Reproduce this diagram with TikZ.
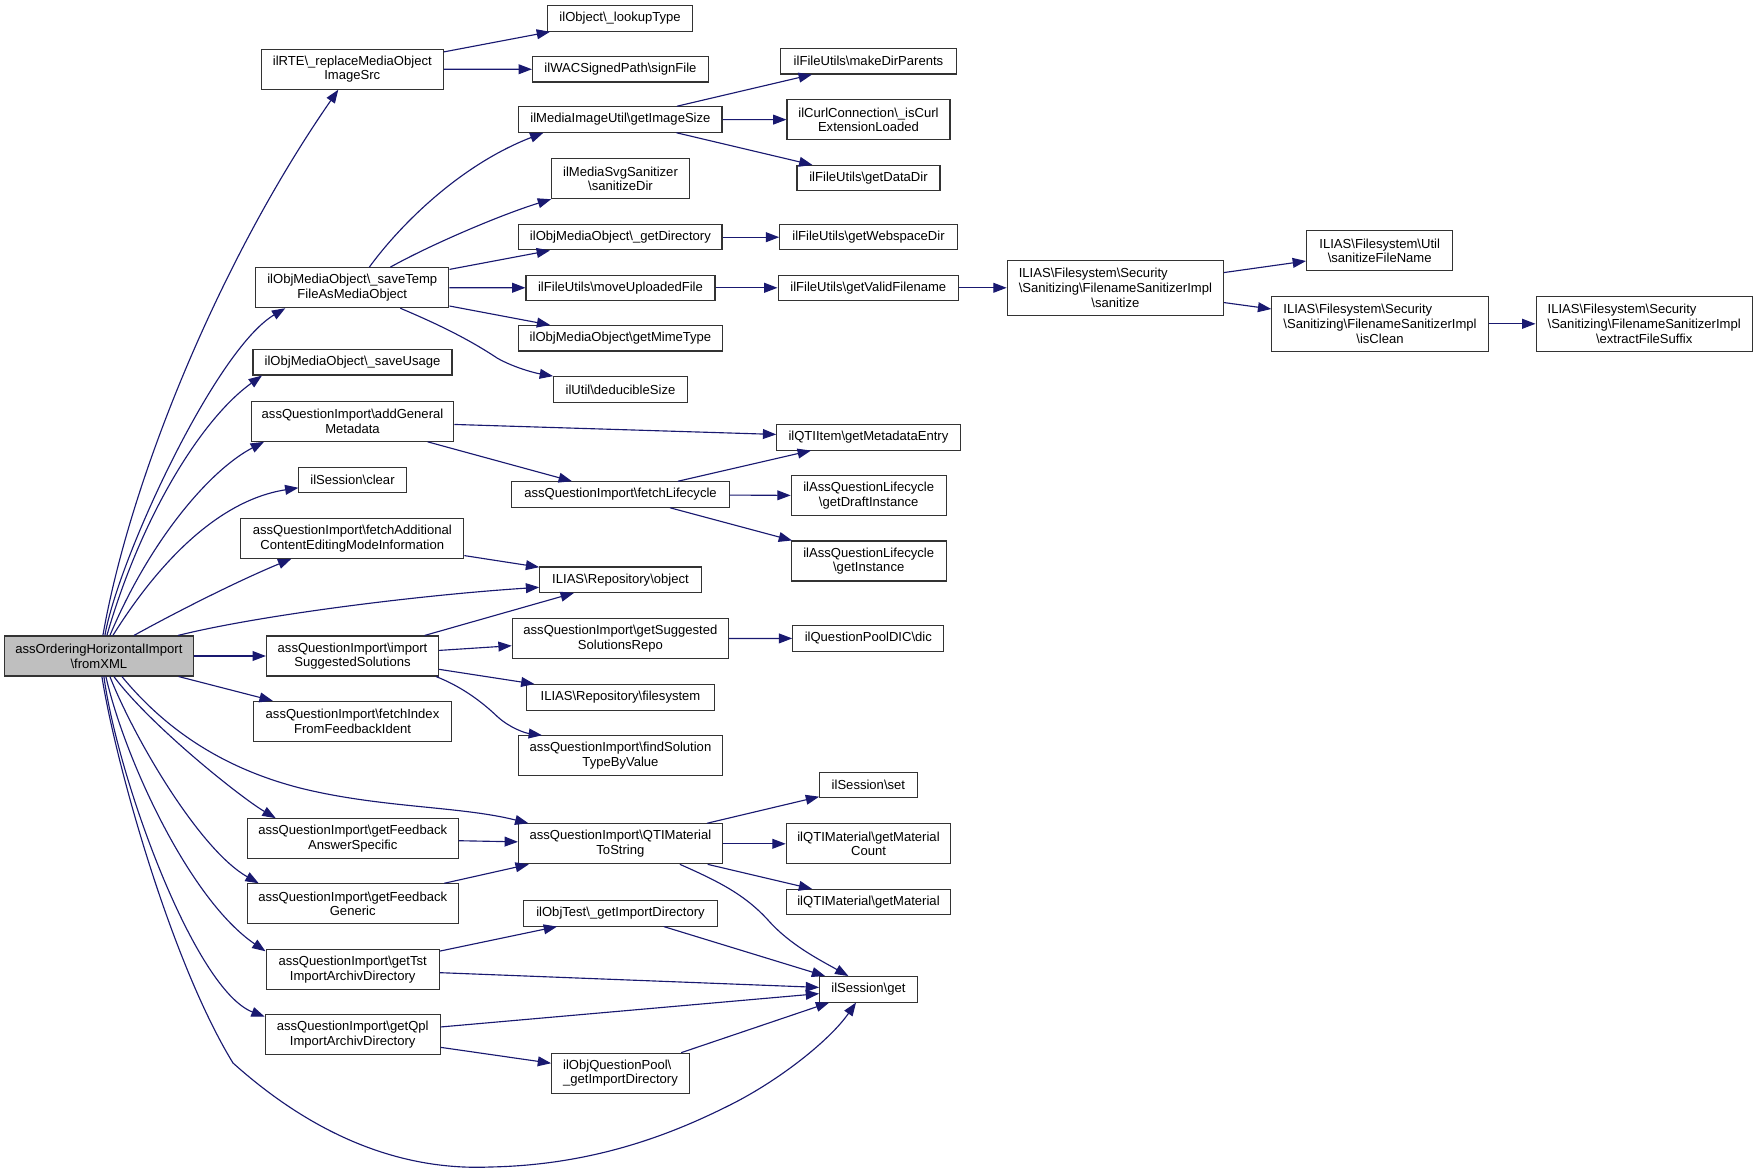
\documentclass[tikz,border=0pt]{standalone}
\usepackage{fontspec}
\setmainfont{Liberation Sans}
\usetikzlibrary{arrows.meta,calc}
\definecolor{edgeblue}{HTML}{191970}
\definecolor{mainfill}{HTML}{BFBFBF}
\newcommand\bsl{\textbackslash}
\newcommand\nfont{\fontsize{9.8}{11}\selectfont}
\newlength\lwd
\newcommand\lft[2]{\settowidth{\lwd}{#2}\makebox[\lwd][l]{#1}\\#2}
\begin{document}
\begin{tikzpicture}[x=0.75pt,y=-0.75pt,
  nb/.style={draw=black!80, line width=0.8pt, fill=white, inner sep=0pt, align=center, font=\nfont, minimum height=19.1pt},
  two/.style={minimum height=30pt},
  three/.style={minimum height=41.3pt},
  bw/.style={minimum width=#1*0.75pt},
  ed/.style={draw=edgeblue, line width=0.85pt, -{Triangle[length=10pt,width=7.4pt]}, edgeblue}]
\useasboundingbox (0,0) rectangle (1757,1173);

\node[nb,two,bw=188.7,fill=mainfill] (main) at (98.9,656) {assOrderingHorizontalImport\\\bsl fromXML};
\node[nb,two,bw=182] (rte) at (352.3,69.2) {ilRTE\bsl\_replaceMediaObject\\ImageSrc};
\node[nb,bw=144.7] (lookup) at (620.1,18.5) {ilObject\bsl\_lookupType};
\node[nb,bw=176.1] (sign) at (620.5,69.3) {ilWACSignedPath\bsl signFile};
\node[nb,two,bw=193.3] (savetemp) at (352.3,287.7) {ilObjMediaObject\bsl\_saveTemp\\FileAsMediaObject};
\node[nb,bw=203.2] (imgsize) at (620.4,119.5) {ilMediaImageUtil\bsl getImageSize};
\node[nb,two,bw=137.7] (svg) at (620.5,178.7) {ilMediaSvgSanitizer\\\bsl sanitizeDir};
\node[nb,bw=203.2] (getdir) at (620.4,237.2) {ilObjMediaObject\bsl\_getDirectory};
\node[nb,bw=189] (move) at (620.5,287.8) {ilFileUtils\bsl moveUploadedFile};
\node[nb,bw=204.3] (mime) at (620.5,338.3) {ilObjMediaObject\bsl getMimeType};
\node[nb,bw=133.9] (deduc) at (620.5,389.4) {ilUtil\bsl deducibleSize};
\node[nb,bw=175.3] (mkdir) at (868.5,61.3) {ilFileUtils\bsl makeDirParents};
\node[nb,two,bw=163] (curl) at (868.5,119.7) {ilCurlConnection\bsl\_isCurl\\ExtensionLoaded};
\node[nb,bw=143] (datadir) at (868.5,178.2) {ilFileUtils\bsl getDataDir};
\node[nb,bw=177.5] (webdir) at (868.5,237.2) {ilFileUtils\bsl getWebspaceDir};
\node[nb,bw=180.5] (valid) at (868.3,287.8) {ilFileUtils\bsl getValidFilename};
\node[nb,three,bw=216.4] (sanitize) at (1115.4,287.8) {\lft{ILIAS\bsl Filesystem\bsl Security}{\bsl Sanitizing\bsl FilenameSanitizerImpl}\\\bsl sanitize};
\node[nb,two,bw=146.3] (sfn) at (1379.7,250.7) {ILIAS\bsl Filesystem\bsl Util\\\bsl sanitizeFileName};
\node[nb,three,bw=216.4] (isclean) at (1380,323.8) {\lft{ILIAS\bsl Filesystem\bsl Security}{\bsl Sanitizing\bsl FilenameSanitizerImpl}\\\bsl isClean};
\node[nb,three,bw=216.3] (suffix) at (1644.2,323.8) {\lft{ILIAS\bsl Filesystem\bsl Security}{\bsl Sanitizing\bsl FilenameSanitizerImpl}\\\bsl extractFileSuffix};
\node[nb,bw=199] (usage) at (352.5,362.3) {ilObjMediaObject\bsl\_saveUsage};
\node[nb,two,bw=202.9] (addgen) at (352.5,421.3) {assQuestionImport\bsl addGeneral\\Metadata};
\node[nb,bw=183.3] (meta) at (868.4,437.3) {ilQTIItem\bsl getMetadataEntry};
\node[nb,bw=217.3] (life) at (620.5,494.5) {assQuestionImport\bsl fetchLifecycle};
\node[nb,two,bw=155] (draft) at (868.7,495.8) {ilAssQuestionLifecycle\\\bsl getDraftInstance};
\node[nb,two,bw=155] (inst) at (868.7,561) {ilAssQuestionLifecycle\\\bsl getInstance};
\node[nb,bw=107.1] (clear) at (352.5,479.8) {ilSession\bsl clear};
\node[nb,two,bw=223.1] (fetchadd) at (352.3,538.3) {assQuestionImport\bsl fetchAdditional\\ContentEditingModeInformation};
\node[nb,bw=161.5] (object) at (620.5,579.7) {ILIAS\bsl Repository\bsl object};
\node[nb,two,bw=172.2] (isugg) at (352.5,656) {assQuestionImport\bsl import\\SuggestedSolutions};
\node[nb,two,bw=216.3] (repo) at (620.4,638.7) {assQuestionImport\bsl getSuggested\\SolutionsRepo};
\node[nb,bw=151.1] (dic) at (868.3,638.3) {ilQuestionPoolDIC\bsl dic};
\node[nb,bw=187.5] (fs) at (620.5,697.3) {ILIAS\bsl Repository\bsl filesystem};
\node[nb,two,bw=204.3] (findsol) at (620.5,755.8) {assQuestionImport\bsl findSolution\\TypeByValue};
\node[nb,two,bw=197.5] (fidx) at (352.5,721.3) {assQuestionImport\bsl fetchIndex\\FromFeedbackIdent};
\node[nb,two,bw=203.9] (qti) at (620.4,843.8) {assQuestionImport\bsl QTIMaterial\\ToString};
\node[nb,bw=97.5] (set) at (868.4,785) {ilSession\bsl set};
\node[nb,two,bw=164.5] (count) at (868.5,843.8) {ilQTIMaterial\bsl getMaterial\\Count};
\node[nb,bw=164.5] (mat) at (868.5,902.2) {ilQTIMaterial\bsl getMaterial};
\node[nb,two,bw=210.9] (fbas) at (352.7,838.7) {assQuestionImport\bsl getFeedback\\AnswerSpecific};
\node[nb,two,bw=210.9] (fbgen) at (352.7,903.8) {assQuestionImport\bsl getFeedback\\Generic};
\node[nb,bw=193.7] (otest) at (620.5,913.3) {ilObjTest\bsl\_getImportDirectory};
\node[nb,two,bw=173.3] (tst) at (352.7,969.3) {assQuestionImport\bsl getTst\\ImportArchivDirectory};
\node[nb,bw=97.5] (get) at (868.4,989.3) {ilSession\bsl get};
\node[nb,two,bw=174.9] (qpl) at (352.7,1034.7) {assQuestionImport\bsl getQpl\\ImportArchivDirectory};
\node[nb,two,bw=137.7] (qpool) at (620.5,1073.2) {\lft{ilObjQuestionPool\bsl}{\_getImportDirectory}};

% edges from main (top)
\draw[ed] ($(main.north)+(4,0)$) .. controls (130,480) and (220,260) .. ($(rte.south)+(-14,0)$);
\draw[ed] ($(main.north)+(6,0)$) .. controls (118,560) and (215,350) .. ($(savetemp.south)+(-67,0)$);
\draw[ed] ($(main.north)+(8,0)$) .. controls (140,520) and (200,420) .. ($(usage.south)+(-90.5,0)$);
\draw[ed] ($(main.north)+(11,0)$) .. controls (150,540) and (210,470) .. ($(addgen.south)+(-88.5,0)$);
\draw[ed] ($(main.north)+(14,0)$) .. controls (160,560) and (220,500) .. ($(clear.west)+(0,8)$);
\draw[ed] ($(main.north)+(35,0)$) .. controls (180,610) and (240,580) .. ($(fetchadd.south)+(-61,0)$);
\draw[ed] ($(main.north)+(79,0)$) .. controls (260,615) and (420,595) .. ($(object.west)+(0,7.6)$);
\draw[ed] (main) -- (isugg);
\draw[ed] (main) -- (fidx);
% edges from main (bottom)
\draw[ed] ($(main.south)+(23,0)$) .. controls (170,735) and (230,770) .. (300,788) .. controls (380,808) and (460,806) .. ($(qti.north)+(-92,0)$);
\draw[ed] ($(main.south)+(15,0)$) .. controls (150,725) and (240,797) .. ($(fbas.north)+(-77,0)$);
\draw[ed] ($(main.south)+(11,0)$) .. controls (135,740) and (200,850) .. ($(fbgen.north)+(-94,0)$);
\draw[ed] ($(main.south)+(7,0)$) .. controls (125,760) and (190,900) .. ($(tst.north west)+(0,2.5)$);
\draw[ed] ($(main.south)+(5,0)$) .. controls (118,780) and (195,990) .. ($(qpl.north west)+(0,2.5)$);
\draw[ed] ($(main.south)+(3,0)$) .. controls (115,760) and (170,960) .. (233,1063) .. controls (330,1150) and (420,1170) .. (490,1167) .. controls (600,1165) and (680,1130) .. (730,1105) .. controls (780,1080) and (830,1040) .. ($(get.south)+(-12.4,0)$);

% other edges
\draw[ed] (rte) -- (lookup);
\draw[ed] (rte) -- (sign);
\draw[ed] ($(savetemp.north)+(17,0)$) .. controls (400,225) and (460,165) .. ($(imgsize.south)+(-77,0)$);
\draw[ed] ($(savetemp.north)+(38,0)$) .. controls (430,245) and (500,215) .. (svg.south west);
\draw[ed] (savetemp) -- (getdir);
\draw[ed] (savetemp) -- (move);
\draw[ed] (savetemp) -- (mime);
\draw[ed] ($(savetemp.south)+(48,0)$) .. controls (440,325) and (470,340) .. (497.5,358.3) .. controls (515,368) and (535,373) .. (deduc.north west);
\draw[ed] (imgsize) -- (mkdir);
\draw[ed] (imgsize) -- (curl);
\draw[ed] (imgsize) -- (datadir);
\draw[ed] (getdir) -- (webdir);
\draw[ed] (move) -- (valid);
\draw[ed] (valid) -- (sanitize);
\draw[ed] (sanitize) -- (sfn);
\draw[ed] (sanitize) -- (isclean);
\draw[ed] (isclean) -- (suffix);
\draw[ed] (addgen) -- (meta);
\draw[ed] (addgen) -- (life);
\draw[ed] (life) -- (meta);
\draw[ed] (life) -- (draft);
\draw[ed] (life) -- (inst);
\draw[ed] (fetchadd) -- (object);
\draw[ed] (isugg) -- (object);
\draw[ed] (isugg) -- (repo);
\draw[ed] (isugg) -- (fs);
\draw[ed] ($(isugg.south)+(83.5,0)$) .. controls (460,686) and (480,700) .. (497.5,716.7) .. controls (510,728) and (525,733) .. ($(findsol.north)+(-78.5,0)$);
\draw[ed] (repo) -- (dic);
\draw[ed] (fbas) -- (qti);
\draw[ed] (fbgen) -- (qti);
\draw[ed] (qti) -- (set);
\draw[ed] (qti) -- (count);
\draw[ed] (qti) -- (mat);
\draw[ed] ($(qti.south)+(59.5,0)$) .. controls (720,882) and (745,895) .. (768,920) .. controls (790,945) and (820,960) .. ($(get.north)+(-20,0)$);
\draw[ed] (tst) -- (otest);
\draw[ed] (tst) -- (get);
\draw[ed] (otest) -- (get);
\draw[ed] (qpl) -- (get);
\draw[ed] (qpl) -- (qpool);
\draw[ed] (qpool) -- (get);
\end{tikzpicture}
\end{document}
